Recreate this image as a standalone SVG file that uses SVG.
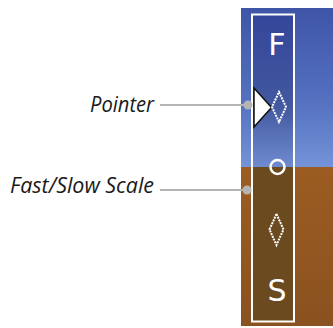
<svg xmlns="http://www.w3.org/2000/svg" width="333" height="328" viewBox="0 0 333 328">
<style>
.lbl{font-family:"Open Sans","DejaVu Sans",sans-serif;font-style:italic;font-size:22px;fill:#1a1a1a;text-anchor:end}
.glyph{font-family:"DejaVu Sans",sans-serif;font-size:30px;fill:#ffffff;text-anchor:middle}
.lead{stroke:#b4b4b4;stroke-width:2;fill:none}
.dot{fill:#b4b4b4}
.dia{fill:none;stroke:#ffffff;stroke-width:2;stroke-dasharray:2 1}
</style>
<defs>
<linearGradient id="sky" x1="0" y1="0" x2="0" y2="1">
<stop offset="0" stop-color="#3f55a8"/>
<stop offset="0.6" stop-color="#5571c0"/>
<stop offset="1" stop-color="#7493d8"/>
</linearGradient>
<linearGradient id="skyIn" x1="0" y1="0" x2="0" y2="1">
<stop offset="0" stop-color="#34469a"/>
<stop offset="0.6" stop-color="#42589f"/>
<stop offset="1" stop-color="#6f8bd0"/>
</linearGradient>
<linearGradient id="gnd" x1="0" y1="0" x2="0" y2="1">
<stop offset="0" stop-color="#9c5c22"/>
<stop offset="1" stop-color="#8a5220"/>
</linearGradient>
</defs>
<g id="background">
<rect x="241" y="8" width="92" height="159" fill="url(#sky)"/>
<rect x="241" y="167" width="92" height="159" fill="url(#gnd)"/>
</g>
<g id="scale">
<rect x="253" y="15" width="40" height="152" fill="url(#skyIn)"/>
<rect x="253" y="167" width="40" height="154" fill="#6a4a1e"/>
<rect x="252" y="14.5" width="42" height="307" fill="none" stroke="#ffffff" stroke-width="2"/>
<text class="glyph" x="277" y="55">F</text>
<text class="glyph" x="277" y="301">S</text>
<circle cx="277.5" cy="167" r="7" fill="none" stroke="#ffffff" stroke-width="2.5"/>
<polygon class="dia" points="276.5,214 283.5,229.5 276.5,245 269.5,229.5"/>
</g>
<g id="pointer">
<polygon points="254,88 271.5,107.5 254,127" fill="#ffffff" stroke="#111111" stroke-width="1.5" stroke-linejoin="miter"/>
<polygon class="dia" points="279,92 286,107 279,122 272,107"/>
</g>
<g id="connectors">
<line class="lead" x1="160" y1="105" x2="248" y2="105"/>
<circle class="dot" cx="248" cy="105" r="4.5"/>
<line class="lead" x1="160" y1="190" x2="247" y2="190"/>
<circle class="dot" cx="247" cy="190" r="4.5"/>
</g>
<g id="labels">
<text class="lbl" x="154" y="112" textLength="64" lengthAdjust="spacingAndGlyphs">Pointer</text>
<text class="lbl" x="154" y="193" textLength="144" lengthAdjust="spacingAndGlyphs">Fast/Slow Scale</text>
</g>
</svg>
